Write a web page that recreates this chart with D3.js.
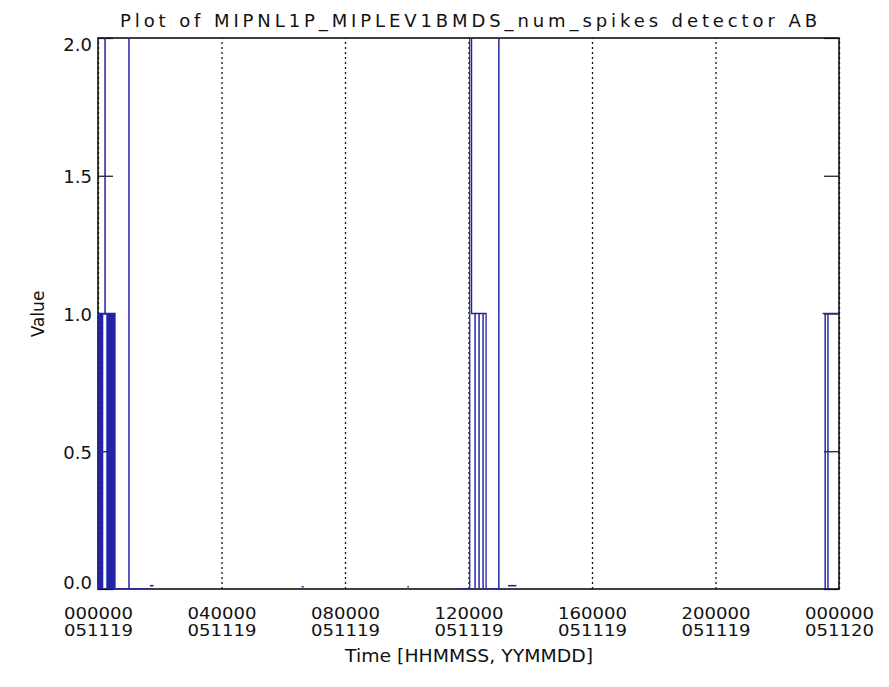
<!DOCTYPE html>
<html><head><meta charset="utf-8">
<script src="https://cdn.jsdelivr.net/npm/d3@7"></script>
<style>body{margin:0;background:#fff}</style>
</head><body><svg id="c" width="889" height="687"></svg>
<script>
const titleText = "Plot of  MIPNL1P_MIPLEV1BMDS_num_spikes detector AB";
const yLabelText = "Value";
const xLabelText = "Time [HHMMSS, YYMMDD]";
const xTickHours = [0, 4, 8, 12, 16, 20, 24];
const xTickTime = ["000000","040000","080000","120000","160000","200000","000000"];
const xTickDate = ["051119","051119","051119","051119","051119","051119","051120"];
const yTicks = [0, 0.5, 1, 1.5, 2];

// step data (time in hours since 000000 051119, value = number of spikes)
const leftT = [0.00,0.03,0.05,0.08,0.10,0.13,0.15,0.225,0.232,0.29,0.31,0.34,0.36,0.39,0.41,0.44,0.46,0.49,0.51,0.55,1.00,1.006,1.68];
const leftV = [1,0,1,0,1,0,1,3,1,0,1,0,1,0,1,0,1,0,1,0,3,0,0];
const midT = [11.72,12.04,12.10,12.21,12.215,12.34,12.345,12.47,12.475,12.57,12.98,12.986,13.08];
const midV = [0,3,1,0,1,0,1,0,1,0,3,0,0];
const rightT = [23.47,23.55,23.555,23.64,23.645,24.0];
const rightV = [1,0,1,0,1,1];
const blipStart = [1.68, 6.60, 10.02, 13.28];
const blipEnd   = [1.80, 6.66, 10.07, 13.55];
const blipValue = [0.012, 0.008, 0.008, 0.012];

const svg = d3.select("#c");
svg.append("rect").attr("width",889).attr("height",687).attr("fill","#fff");
const L=98, R=839, T=38, B=589;
const x = d3.scaleLinear().domain([0,24]).range([L,R]);
const y = d3.scaleLinear().domain([0,2]).range([B,T]);
const font = "'DejaVu Sans', sans-serif";
const blue = "#2323a8";

svg.append("defs").append("clipPath").attr("id","clip")
  .append("rect").attr("x",L).attr("y",T).attr("width",R-L).attr("height",B-T);

// x axis with full-height dotted grid
const xa = d3.axisBottom(x).tickValues(xTickHours).tickSizeInner(-(B-T)).tickSizeOuter(0).tickPadding(0).tickFormat("");
const gx = svg.append("g").attr("transform",`translate(0,${B})`).call(xa);
gx.select(".domain").remove();
gx.selectAll(".tick line").attr("stroke","#111").attr("stroke-width",1.3).attr("stroke-dasharray","2,3");
gx.selectAll(".tick text").remove();
gx.selectAll(".tick").each(function(d,i){
  const g = d3.select(this);
  g.append("text").attr("fill","#111").attr("font-family",font).attr("font-size",15.5)
    .attr("text-anchor","middle").attr("x",0).attr("y",30)
    .attr("textLength",69).attr("lengthAdjust","spacingAndGlyphs").text(xTickTime[i]);
  g.append("text").attr("fill","#111").attr("font-family",font).attr("font-size",15.5)
    .attr("text-anchor","middle").attr("x",0).attr("y",47)
    .attr("textLength",69).attr("lengthAdjust","spacingAndGlyphs").text(xTickDate[i]);
});

// y axis left and right with inward ticks
const ya = d3.axisLeft(y).tickValues(yTicks).tickSizeInner(-15).tickSizeOuter(0).tickPadding(6).tickFormat(d3.format(".1f"));
const gy = svg.append("g").attr("transform",`translate(${L},0)`).call(ya);
gy.select(".domain").remove();
gy.selectAll(".tick line").attr("stroke","#111").attr("stroke-width",1.2);
gy.selectAll(".tick text").attr("fill","#111").attr("font-family",font).attr("font-size",18)
  .attr("dy", d => d===0 ? "-0.02em" : d===2 ? "0.72em" : "0.38em");
const yr = d3.axisRight(y).tickValues(yTicks).tickSizeInner(-15).tickSizeOuter(0).tickFormat("");
const gyr = svg.append("g").attr("transform",`translate(${R},0)`).call(yr);
gyr.select(".domain").remove();
gyr.selectAll(".tick line").attr("stroke","#111").attr("stroke-width",1.2);

// frame
svg.append("rect").attr("x",L).attr("y",T).attr("width",R-L).attr("height",B-T)
  .attr("fill","none").attr("stroke","#111").attr("stroke-width",1.6);

// data
const line = d3.line().x(d=>x(d[0])).y(d=>y(d[1])).curve(d3.curveStepAfter);
const gd = svg.append("g").attr("clip-path","url(#clip)");
[[leftT,leftV],[midT,midV],[rightT,rightV]].forEach(([ts,vs])=>{
  gd.append("path").attr("d", line(ts.map((t,i)=>[t,vs[i]])))
    .attr("fill","none").attr("stroke",blue).attr("stroke-width",1.3);
});
blipStart.forEach((s,i)=>{
  gd.append("path").attr("d", line([[s,blipValue[i]],[blipEnd[i],blipValue[i]]]))
    .attr("fill","none").attr("stroke",blue).attr("stroke-width",1.6);
});

// titles
svg.append("text").attr("x",120).attr("y",27).attr("font-family",font).attr("font-size",18)
  .attr("fill","#111").attr("textLength",697).attr("lengthAdjust","spacing").text(titleText);
svg.append("text").attr("transform","translate(44,314) rotate(-90)").attr("text-anchor","middle")
  .attr("font-family",font).attr("font-size",17).attr("fill","#111").text(yLabelText);
svg.append("text").attr("x",345).attr("y",662).attr("font-family",font).attr("font-size",17)
  .attr("fill","#111").attr("textLength",248).attr("lengthAdjust","spacingAndGlyphs").text(xLabelText);
</script>
</body></html>
